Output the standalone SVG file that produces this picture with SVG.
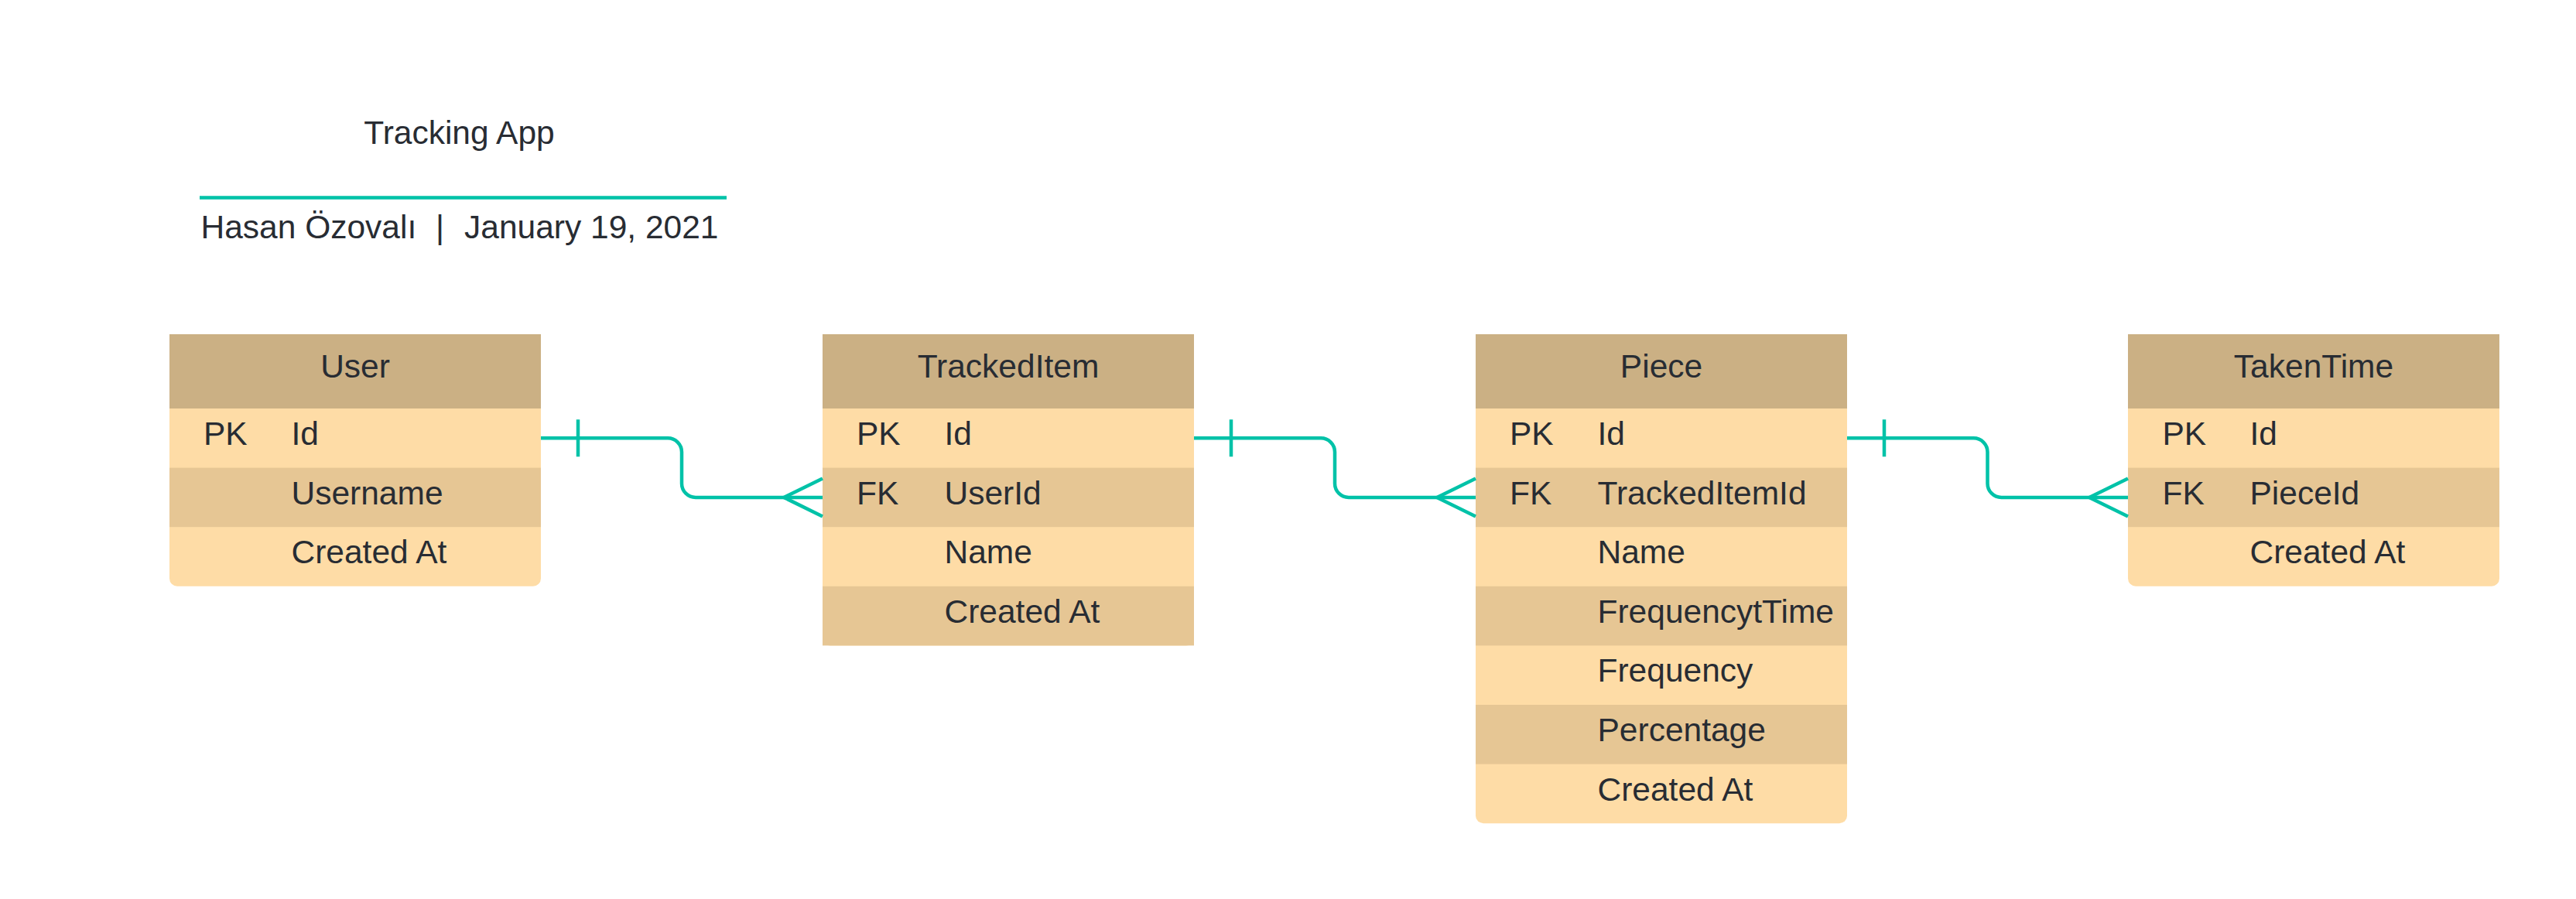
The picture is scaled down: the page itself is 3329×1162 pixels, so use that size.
<svg xmlns="http://www.w3.org/2000/svg" width="3329" height="1162" viewBox="0 0 3329 1162">
<style>
text{font-family:"Liberation Sans",Arial,sans-serif;font-size:42.5px;fill:#282c33}
.c{text-anchor:middle}
.hd{fill:#cbb084}
.lt{fill:#fedca6}
.dk{fill:#e6c694}
.ln{stroke:#00c2a8;stroke-width:4.5;fill:none}
</style>
<rect width="3329" height="1162" fill="#ffffff"/>
<g id="title">
<text class="c" x="593.5" y="186">Tracking App</text>
<line class="ln" x1="258" y1="255.5" x2="939" y2="255.5"/>
<text x="259.5" y="308"><tspan x="259.5">Hasan Özovalı</tspan><tspan x="563">|</tspan><tspan x="600">January 19, 2021</tspan></text>
</g>
<g id="user">
<path class="lt" d="M219 432H699V747.8A10 10 0 0 1 689 757.8H229A10 10 0 0 1 219 747.8Z"/>
<rect class="hd" x="219" y="432" width="480" height="96"/>
<rect class="dk" x="219" y="604.6" width="480" height="76.6"/>
<text class="c" x="459" y="488">User</text>
<text x="263" y="575">PK</text><text x="376.5" y="575">Id</text>
<text x="376.5" y="651.6">Username</text>
<text x="376.5" y="728.2">Created At</text>
</g>
<g id="trackeditem">
<path class="lt" d="M1063 432H1543V824.4A10 10 0 0 1 1533 834.4H1073A10 10 0 0 1 1063 824.4Z"/>
<rect class="hd" x="1063" y="432" width="480" height="96"/>
<rect class="dk" x="1063" y="604.6" width="480" height="76.6"/>
<rect class="dk" x="1063" y="757.8" width="480" height="76.6"/>
<text class="c" x="1303" y="488">TrackedItem</text>
<text x="1107" y="575">PK</text><text x="1220.5" y="575">Id</text>
<text x="1107" y="651.6">FK</text><text x="1220.5" y="651.6">UserId</text>
<text x="1220.5" y="728.2">Name</text>
<text x="1220.5" y="804.8">Created At</text>
</g>
<g id="piece">
<path class="lt" d="M1907 432H2387V1054.2A10 10 0 0 1 2377 1064.2H1917A10 10 0 0 1 1907 1054.2Z"/>
<rect class="hd" x="1907" y="432" width="480" height="96"/>
<rect class="dk" x="1907" y="604.6" width="480" height="76.6"/>
<rect class="dk" x="1907" y="757.8" width="480" height="76.6"/>
<rect class="dk" x="1907" y="911" width="480" height="76.6"/>
<text class="c" x="2147" y="488">Piece</text>
<text x="1951" y="575">PK</text><text x="2064.5" y="575">Id</text>
<text x="1951" y="651.6">FK</text><text x="2064.5" y="651.6">TrackedItemId</text>
<text x="2064.5" y="728.2">Name</text>
<text x="2064.5" y="804.8">FrequencytTime</text>
<text x="2064.5" y="881.4">Frequency</text>
<text x="2064.5" y="958">Percentage</text>
<text x="2064.5" y="1034.6">Created At</text>
</g>
<g id="takentime">
<path class="lt" d="M2750 432H3230V747.8A10 10 0 0 1 3220 757.8H2760A10 10 0 0 1 2750 747.8Z"/>
<rect class="hd" x="2750" y="432" width="480" height="96"/>
<rect class="dk" x="2750" y="604.6" width="480" height="76.6"/>
<text class="c" x="2990" y="488">TakenTime</text>
<text x="2794.5" y="575">PK</text><text x="2907.5" y="575">Id</text>
<text x="2794.5" y="651.6">FK</text><text x="2907.5" y="651.6">PieceId</text>
<text x="2907.5" y="728.2">Created At</text>
</g>
<g id="connectors">
<path class="ln" d="M699 566.3H863A18 18 0 0 1 881 584.3V624.9A18 18 0 0 0 899 642.9H1063"/>
<path class="ln" d="M747 542.3V590.3M1013 642.9L1063 618.4M1013 642.9L1063 667.4"/>
<path class="ln" d="M1543 566.3H1707A18 18 0 0 1 1725 584.3V624.9A18 18 0 0 0 1743 642.9H1907"/>
<path class="ln" d="M1591 542.3V590.3M1857 642.9L1907 618.4M1857 642.9L1907 667.4"/>
<path class="ln" d="M2387 566.3H2550.5A18 18 0 0 1 2568.5 584.3V624.9A18 18 0 0 0 2586.5 642.9H2750"/>
<path class="ln" d="M2435 542.3V590.3M2700 642.9L2750 618.4M2700 642.9L2750 667.4"/>
</g>
</svg>
